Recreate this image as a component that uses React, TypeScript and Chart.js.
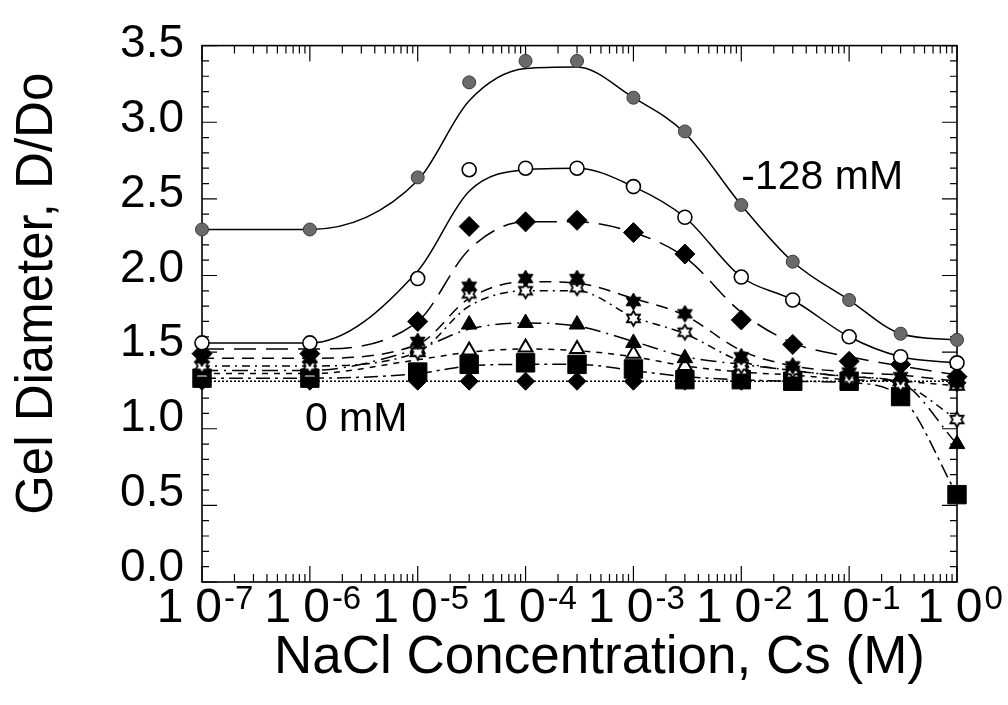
import React, { useEffect, useRef } from 'react';
import { Chart, registerables } from 'chart.js';

Chart.register(...registerables);

const FONT = '"Liberation Sans", Arial, Helvetica, sans-serif';

// NaCl concentration (M) at which the gels were measured
const concentrations = [1e-7, 1e-6, 1e-5, 3e-5, 1e-4, 3e-4, 1e-3, 3e-3, 1e-2, 3e-2, 1e-1, 3e-1, 1];

// -128 mM (grey filled circles)
const grayCirclePoints = [2.30, 2.30, 2.64, 3.26, 3.40, 3.40, 3.16, 2.94, 2.46, 2.09, 1.84, 1.62, 1.58];
const grayCircleCurve = [2.30, 2.30, 2.62, 3.14, 3.35, 3.36, 3.16, 2.93, 2.46, 2.09, 1.84, 1.62, 1.58];
// open circles
const openCirclePoints = [1.56, 1.56, 1.98, 2.69, 2.70, 2.70, 2.58, 2.38, 1.99, 1.84, 1.60, 1.47, 1.43];
const openCircleCurve = [1.56, 1.56, 2.03, 2.55, 2.69, 2.70, 2.58, 2.38, 1.99, 1.84, 1.60, 1.47, 1.43];
// filled diamonds (large)
const diamondPoints = [1.49, 1.49, 1.70, 2.32, 2.35, 2.36, 2.28, 2.14, 1.71, 1.55, 1.44, 1.42, 1.34];
const diamondCurve = [1.52, 1.52, 1.70, 2.17, 2.35, 2.35, 2.28, 2.12, 1.76, 1.56, 1.47, 1.41, 1.35];
// filled stars
const filledStarPoints = [1.46, 1.46, 1.57, 1.93, 1.98, 1.98, 1.83, 1.75, 1.47, 1.41, 1.37, 1.34, 1.30];
const filledStarCurve = [1.46, 1.46, 1.55, 1.85, 1.96, 1.95, 1.85, 1.74, 1.51, 1.41, 1.37, 1.35, 1.31];
// open stars
const openStarPoints = [1.41, 1.41, 1.50, 1.88, 1.90, 1.92, 1.72, 1.63, 1.41, 1.38, 1.33, 1.29, 1.06];
const openStarCurve = [1.41, 1.41, 1.50, 1.80, 1.90, 1.90, 1.73, 1.62, 1.44, 1.38, 1.34, 1.30, 1.06];
// filled triangles
const filledTrianglePoints = [1.38, 1.38, 1.52, 1.68, 1.69, 1.68, 1.56, 1.46, 1.43, 1.39, 1.34, 1.33, 0.90];
const filledTriangleCurve = [1.38, 1.38, 1.52, 1.65, 1.69, 1.67, 1.57, 1.47, 1.42, 1.38, 1.34, 1.30, 0.90];
// open triangles
const openTrianglePoints = [1.36, 1.36, 1.50, 1.51, 1.53, 1.52, 1.49, 1.41, 1.38, 1.36, 1.32, 1.31, 1.28];
const openTriangleCurve = [1.36, 1.36, 1.45, 1.50, 1.52, 1.51, 1.47, 1.41, 1.37, 1.35, 1.32, 1.31, 1.28];
// filled squares
const squarePoints = [1.33, 1.33, 1.37, 1.42, 1.43, 1.42, 1.39, 1.32, 1.32, 1.31, 1.31, 1.21, 0.57];
const squareCurve = [1.33, 1.33, 1.36, 1.41, 1.42, 1.42, 1.38, 1.34, 1.32, 1.31, 1.30, 1.21, 0.57];
// 0 mM (small filled diamonds)
const zeroPoints = [1.31, 1.31, 1.31, 1.31, 1.31, 1.31, 1.31, 1.31, 1.31, 1.31, 1.31, 1.31, 1.30];
const zeroCurve = [1.31, 1.31, 1.31, 1.31, 1.31, 1.31, 1.31, 1.31, 1.31, 1.31, 1.31, 1.31, 1.31];

// axis ticks / labels
const yTickValues = [0, 0.5, 1, 1.5, 2, 2.5, 3, 3.5];
const xTickValues = [1e-7, 1e-6, 1e-5, 1e-4, 1e-3, 1e-2, 1e-1, 1];
const xTickExponents = ['-7', '-6', '-5', '-4', '-3', '-2', '-1', '0'];
const xAxisTitle = 'NaCl Concentration, Cs (M)';
const yAxisTitle = 'Gel Diameter, D/Do';

// curve labels
const annotationTexts = ['-128 mM', '0 mM'];
const annotationXs = [1.0e-2, 9.0e-7];
const annotationYs = [2.64, 1.06];

function makeHexagram(size: number, filled: boolean): HTMLCanvasElement {
  const c = document.createElement('canvas');
  const pad = 2;
  c.width = size + pad * 2;
  c.height = size + pad * 2;
  const ctx = c.getContext('2d')!;
  const cx = c.width / 2;
  const cy = c.height / 2;
  const R = size / 2;
  const r = R / Math.sqrt(3);
  ctx.beginPath();
  for (let k = 0; k < 12; k++) {
    const ang = -Math.PI / 2 + (k * Math.PI) / 6;
    const rad = k % 2 === 0 ? R : r;
    const px = cx + rad * Math.cos(ang);
    const py = cy + rad * Math.sin(ang);
    if (k === 0) ctx.moveTo(px, py);
    else ctx.lineTo(px, py);
  }
  ctx.closePath();
  ctx.fillStyle = filled ? '#000' : '#fff';
  ctx.fill();
  ctx.lineWidth = filled ? 1 : 1.8;
  ctx.strokeStyle = '#000';
  ctx.stroke();
  return c;
}

const frameTicksPlugin = {
  id: 'frameTicks',
  beforeDatasetsDraw(chart: any) {
    const { ctx, chartArea, scales } = chart;
    const { left, right, top, bottom } = chartArea;
    const x = scales.x;
    const y = scales.y;
    ctx.save();
    ctx.strokeStyle = '#000';
    ctx.lineWidth = 1.2;
    ctx.beginPath();
    for (let i = 0; i <= 35; i++) {
      const v = i / 10;
      const py = y.getPixelForValue(v);
      const len = i % 5 === 0 ? 15 : 7;
      ctx.moveTo(left, py);
      ctx.lineTo(left + len, py);
      ctx.moveTo(right, py);
      ctx.lineTo(right - len, py);
    }
    for (let d = 0; d < xTickValues.length; d++) {
      const dec = xTickValues[d];
      const px = x.getPixelForValue(dec);
      ctx.moveTo(px, bottom);
      ctx.lineTo(px, bottom - 16);
      ctx.moveTo(px, top);
      ctx.lineTo(px, top + 16);
      if (d < xTickValues.length - 1) {
        for (let m = 2; m <= 9; m++) {
          const pm = x.getPixelForValue(dec * m);
          ctx.moveTo(pm, bottom);
          ctx.lineTo(pm, bottom - 8);
          ctx.moveTo(pm, top);
          ctx.lineTo(pm, top + 8);
        }
      }
    }
    ctx.stroke();
    ctx.lineWidth = 1.6;
    ctx.strokeRect(left, top, right - left, bottom - top);
    ctx.restore();
  },
  afterDraw(chart: any) {
    const { ctx, scales, chartArea } = chart;
    const x = scales.x;
    const y = scales.y;
    ctx.save();
    ctx.fillStyle = '#000';
    // x tick labels: 10 with superscript exponent
    const baseFont = `48px ${FONT}`;
    const supFont = `33px ${FONT}`;
    xTickValues.forEach((v, i) => {
      const cx = x.getPixelForValue(v);
      ctx.font = baseFont;
      const w1 = ctx.measureText('1').width;
      const w0 = ctx.measureText('0').width;
      const gap = 12;
      ctx.font = supFont;
      const ws = ctx.measureText(xTickExponents[i]).width;
      const total = w1 + gap + w0 + 2 + ws;
      const start = cx - total / 2 + 3;
      ctx.textAlign = 'left';
      ctx.textBaseline = 'alphabetic';
      ctx.font = baseFont;
      ctx.fillText('1', start, 622);
      ctx.fillText('0', start + w1 + gap, 622);
      ctx.font = supFont;
      ctx.fillText(xTickExponents[i], start + w1 + gap + w0 + 2, 609);
    });
    // axis titles
    ctx.textAlign = 'center';
    ctx.textBaseline = 'middle';
    ctx.font = `53px ${FONT}`;
    ctx.fillText(xAxisTitle, (chartArea.left + chartArea.right) / 2 + 20, 658);
    ctx.save();
    ctx.translate(38, (chartArea.top + chartArea.bottom) / 2 - 20);
    ctx.rotate(-Math.PI / 2);
    ctx.font = `51px ${FONT}`;
    ctx.fillText(yAxisTitle, 0, 0);
    ctx.restore();
    // curve annotations
    ctx.font = `41px ${FONT}`;
    ctx.textAlign = 'left';
    ctx.textBaseline = 'middle';
    annotationTexts.forEach((t, i) => {
      ctx.fillText(t, x.getPixelForValue(annotationXs[i]), y.getPixelForValue(annotationYs[i]));
    });
    ctx.restore();
  },
};

export default function App() {
  const canvasRef = useRef<HTMLCanvasElement | null>(null);

  useEffect(() => {
    const canvas = canvasRef.current;
    if (!canvas) return;

    const filledStar = makeHexagram(17, true);
    const openStar = makeHexagram(15, false);

    const series = [
      { points: grayCirclePoints, curve: grayCircleCurve, dash: [], style: 'circle', radius: 6.5, fill: '#6a6a6a', stroke: '#3a3a3a', bw: 1 },
      { points: openCirclePoints, curve: openCircleCurve, dash: [], style: 'circle', radius: 7, fill: '#ffffff', stroke: '#000', bw: 1.6 },
      { points: diamondPoints, curve: diamondCurve, dash: [22, 10], style: 'rectRot', radius: 10, fill: '#000', stroke: '#000', bw: 1 },
      { points: filledStarPoints, curve: filledStarCurve, dash: [12, 8], style: filledStar, radius: 9, fill: '#000', stroke: '#000', bw: 1 },
      { points: openStarPoints, curve: openStarCurve, dash: [8, 5, 2, 5], style: openStar, radius: 8, fill: '#fff', stroke: '#000', bw: 1 },
      { points: filledTrianglePoints, curve: filledTriangleCurve, dash: [16, 6, 2, 6], style: 'triangle', radius: 9, fill: '#000', stroke: '#000', bw: 1 },
      { points: openTrianglePoints, curve: openTriangleCurve, dash: [6, 6], style: 'triangle', radius: 8, fill: '#fff', stroke: '#000', bw: 2 },
      { points: squarePoints, curve: squareCurve, dash: [14, 5, 3, 5], style: 'rect', radius: 13, fill: '#000', stroke: '#000', bw: 1 },
      { points: zeroPoints, curve: zeroCurve, dash: [2, 2], style: 'rectRot', radius: 9, fill: '#000', stroke: '#000', bw: 1 },
    ];

    const lineSets = series.map((s) => ({
      type: 'line' as const,
      data: concentrations.map((c, i) => ({ x: c, y: s.curve[i] })),
      showLine: true,
      borderColor: '#000',
      borderWidth: 1.5,
      borderDash: s.dash,
      pointRadius: 0,
      cubicInterpolationMode: 'monotone' as const,
      fill: false,
      clip: false as any,
      order: 2,
    }));
    const markerSets = series.map((s) => ({
      type: 'line' as const,
      data: concentrations.map((c, i) => ({ x: c, y: s.points[i] })),
      showLine: false,
      pointStyle: s.style as any,
      pointRadius: s.radius,
      pointBackgroundColor: s.fill,
      pointBorderColor: s.stroke,
      pointBorderWidth: s.bw,
      clip: false as any,
      order: 1,
    }));

    const chart = new Chart(canvas, {
      type: 'line',
      data: { datasets: [...markerSets, ...lineSets] as any },
      options: {
        responsive: false,
        animation: false,
        devicePixelRatio: 1,
        layout: { padding: { top: 43, right: 51, bottom: 0, left: 0 } },
        plugins: { legend: { display: false }, tooltip: { enabled: false } },
        scales: {
          x: {
            type: 'logarithmic',
            min: 1e-7,
            max: 1,
            position: 'bottom',
            grid: { display: false, drawTicks: false },
            border: { display: false },
            ticks: { display: false },
            afterFit: (s: any) => {
              s.height = 123;
            },
          },
          y: {
            type: 'linear',
            min: 0,
            max: 3.5,
            display: false,
          },
          yLabels: {
            type: 'linear',
            position: 'left',
            min: -0.093,
            max: 3.493,
            grid: { display: false, drawTicks: false },
            border: { display: false },
            afterBuildTicks: (s: any) => {
              s.ticks = yTickValues.map((value) => ({ value }));
            },
            ticks: {
              color: '#000',
              font: { family: FONT, size: 46 },
              padding: 18,
              callback: (v: any) => Number(v).toFixed(1),
            },
            afterFit: (s: any) => {
              s.width = 202;
            },
          },
        },
      } as any,
      plugins: [frameTicksPlugin],
    });

    return () => {
      chart.destroy();
    };
  }, []);

  return (
    <div style={{ position: 'fixed', left: 0, top: 0, width: 1008, height: 705, background: '#fff' }}>
      <canvas ref={canvasRef} width={1008} height={705} />
    </div>
  );
}
